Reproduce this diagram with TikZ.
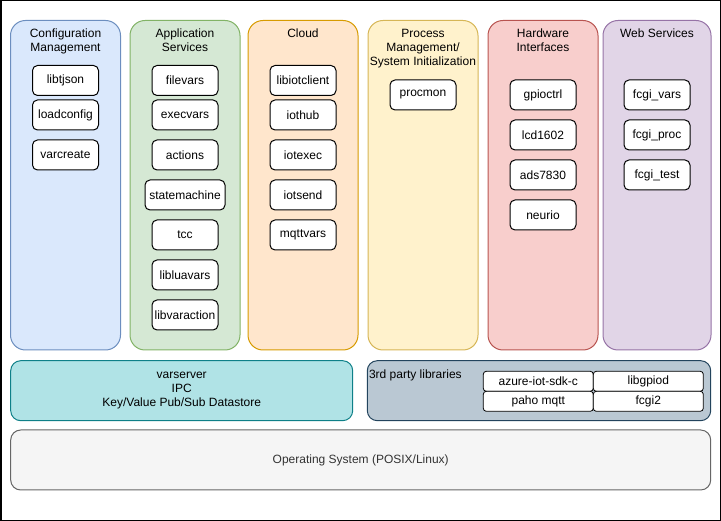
\documentclass[tikz,border=0pt]{standalone}
\usepackage{fontspec}
\setmainfont{Liberation Sans}
\usepackage{tikz}
\usetikzlibrary{positioning}
\definecolor{cfgfill}{HTML}{DAE8FC}
\definecolor{cfgline}{HTML}{6C8EBF}
\definecolor{appfill}{HTML}{D5E8D4}
\definecolor{appline}{HTML}{82B366}
\definecolor{cloudfill}{HTML}{FFE6CC}
\definecolor{cloudline}{HTML}{D79B00}
\definecolor{procfill}{HTML}{FFF2CC}
\definecolor{procline}{HTML}{D6B656}
\definecolor{hwfill}{HTML}{F8CECC}
\definecolor{hwline}{HTML}{B85450}
\definecolor{webfill}{HTML}{E1D5E7}
\definecolor{webline}{HTML}{9673A6}
\definecolor{vsfill}{HTML}{B0E3E6}
\definecolor{vsline}{HTML}{0E8088}
\definecolor{tpfill}{HTML}{BAC8D3}
\definecolor{tpline}{HTML}{23445D}
\definecolor{osfill}{HTML}{F5F5F5}
\definecolor{osline}{HTML}{666666}
\definecolor{ostext}{HTML}{333333}

\begin{document}
\begin{tikzpicture}[
			x=1pt, y=-1pt,
			font=\fontsize{12}{14}\selectfont,
			column/.style={draw, line width=1pt, outer sep=0pt, rounded corners=15pt, minimum width=110pt, minimum height=329.5pt},
			title/.style={inner sep=0pt, outer sep=0pt, align=center},
			box/.style={draw, fill=white, line width=1pt, outer sep=0pt, rounded corners=5pt, minimum width=66pt, minimum height=30pt, inner sep=1pt},
			cell/.style={draw, fill=white, line width=0.8pt, outer sep=0pt, rounded corners=3pt, minimum width=110pt, minimum height=20pt, inner sep=0pt},
			layer/.style={draw, line width=1pt, rounded corners=10pt, align=center}
		]

		\useasboundingbox (0,0) rectangle (721,521);
		\draw[line width=1.5pt] (0.75,0.75) rectangle (720.25,520.25);

		% columns
		\node[column, fill=cfgfill, draw=cfgline] (cfgcol) at (65.5,185.25) {};
		\node[column, fill=appfill, draw=appline] (appcol) at (185,185.25) {};
		\node[column, fill=cloudfill, draw=cloudline] (cloudcol) at (303,185.25) {};
		\node[column, fill=procfill, draw=procline] (proccol) at (423,185.25) {};
		\node[column, fill=hwfill, draw=hwline] (hwcol) at (543,185.25) {};
		\node[column, fill=webfill, draw=webline, minimum width=108pt] (webcol) at (657,185.25) {};

		\node[title, below=8.5pt of cfgcol.north] (cfgtitle) {Configuration\\Management};
		\node[title, below=8.5pt of appcol.north] (apptitle) {Application\\Services};
		\node[title, below=8.5pt of cloudcol.north] (cloudtitle) {Cloud};
		\node[title, below=8.5pt of proccol.north] (proctitle) {Process\\Management/\\System Initialization};
		\node[title, below=8.5pt of hwcol.north] (hwtitle) {Hardware\\Interfaces};
		\node[title, below=8.5pt of webcol.north] (webtitle) {Web Services};

		% configuration management
		\node[box, below=45pt of cfgcol.north] (libtjson) {libtjson};
		\node[box, below=4.5pt of libtjson] (loadconfig) {loadconfig};
		\node[box, below=10pt of loadconfig] (varcreate) {varcreate};

		% application services
		\node[box, below=45pt of appcol.north] (filevars) {filevars};
		\node[box, below=4.5pt of filevars] (execvars) {execvars};
		\node[box, below=10pt of execvars] (actions) {actions};
		\node[box, below=10pt of actions, minimum width=80pt] (statemachine) {statemachine};
		\node[box, below=10pt of statemachine] (tcc) {tcc};
		\node[box, below=10pt of tcc] (libluavars) {libluavars};
		\node[box, below=10pt of libluavars] (libvaraction) {libvaraction};

		% cloud
		\node[box, below=45pt of cloudcol.north] (libiotclient) {libiotclient};
		\node[box, below=4.5pt of libiotclient] (iothub) {iothub};
		\node[box, below=10pt of iothub] (iotexec) {iotexec};
		\node[box, below=10pt of iotexec] (iotsend) {iotsend};
		\node[box, below=10pt of iotsend] (mqttvars) {mqttvars};

		% process management
		\node[box, below=59.5pt of proccol.north] (procmon) {procmon};

		% hardware interfaces
		\node[box, below=59.5pt of hwcol.north] (gpioctrl) {gpioctrl};
		\node[box, below=10pt of gpioctrl] (lcd) {lcd1602};
		\node[box, below=10pt of lcd] (ads) {ads7830};
		\node[box, below=10pt of ads] (neurio) {neurio};

		% web services
		\node[box, below=59.5pt of webcol.north] (fcgivars) {fcgi\_vars};
		\node[box, below=10pt of fcgivars] (fcgiproc) {fcgi\_proc};
		\node[box, below=10pt of fcgiproc] (fcgitest) {fcgi\_test};

		% lower layers
		\node[layer, fill=vsfill, draw=vsline, minimum width=342pt, minimum height=60pt] (varserver) at (181.7,390.7) {varserver\\IPC\\Key/Value Pub/Sub Datastore};
		\node[layer, fill=tpfill, draw=tpline, minimum width=343.4pt, minimum height=60pt] (thirdparty) at (539,390.7) {};
		\node[anchor=north west, inner sep=0pt] (thirdlabel) at ([xshift=2pt, yshift=-9.5pt]thirdparty.north west) {3rd party libraries};
		\node[cell] (azure) at (538.3,381.3) {azure-iot-sdk-c};
		\node[cell, right=0pt of azure] (gpiod) {libgpiod};
		\node[cell, below=0pt of azure] (paho) {paho mqtt};
		\node[cell, right=0pt of paho] (fcgi) {fcgi2};

		\node[layer, fill=osfill, draw=osline, text=ostext, minimum width=700pt, minimum height=60pt] (os) at (360.7,460) {Operating System (POSIX/Linux)};

	\end{tikzpicture}
\end{document}
